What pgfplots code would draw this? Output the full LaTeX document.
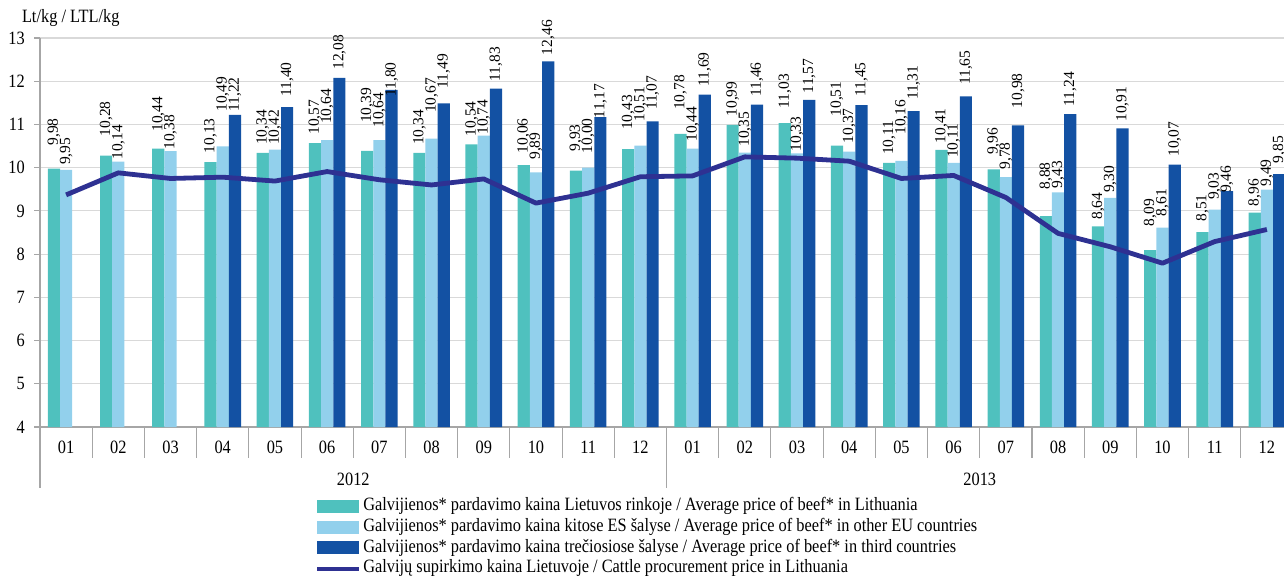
\documentclass[border=0pt]{standalone}
\usepackage{pgfplots}
\pgfplotsset{compat=1.18}
\usepackage{pgfplotstable}
\usepackage{fontspec}
\setmainfont{Liberation Serif}[FakeStretch=0.87]
\newfontfamily\lblfam{Liberation Serif}
\definecolor{cteal}{HTML}{4FC1BE}
\definecolor{clight}{HTML}{92D0EC}
\definecolor{cdark}{HTML}{1351A3}
\definecolor{cline}{HTML}{2E3192}
\definecolor{gridgray}{HTML}{D9D9D9}
\definecolor{axisgray}{HTML}{A6A6A6}
\newcommand{\lblfont}{\lblfam\fontsize{11.6pt}{13pt}\selectfont}
\newcommand{\txtfont}{\fontsize{14.1pt}{16pt}\selectfont}

% x v ly  (v = value, ly = bottom of its label)
\pgfplotstableread{
x v ly
0 9.98 10.51
1 10.28 10.72
2 10.44 10.83
3 10.13 10.33
4 10.34 10.52
5 10.57 10.76
6 10.39 11.03
7 10.34 10.52
8 10.54 10.72
9 10.06 10.33
10 9.93 10.37
11 10.43 10.87
12 10.78 11.33
13 10.99 11.18
14 11.03 11.37
15 10.51 11.18
16 10.11 10.29
17 10.41 10.56
18 9.96 10.29
19 8.88 9.49
20 8.64 8.79
21 8.09 8.64
22 8.51 8.75
23 8.96 9.10
}\tealdata
\pgfplotstableread{
x v ly
0 9.95 10.06
1 10.14 10.18
2 10.38 10.41
3 10.49 11.29
4 10.42 10.52
5 10.64 11.01
6 10.64 10.92
7 10.67 11.26
8 10.74 10.76
9 9.89 10.18
10 10.00 10.33
11 10.51 11.06
12 10.44 10.60
13 10.35 10.48
14 10.33 10.37
15 10.37 10.56
16 10.16 10.76
17 10.11 10.22
18 9.78 9.95
19 9.43 9.52
20 9.30 9.41
21 8.61 8.87
22 9.03 9.25
23 9.49 9.56
}\lightdata
\pgfplotstableread{
x v ly
3 11.22 11.29
4 11.40 11.64
5 12.08 12.26
6 11.80 11.64
7 11.49 11.83
8 11.83 11.99
9 12.46 12.60
10 11.17 11.14
11 11.07 11.33
12 11.69 11.87
13 11.46 11.64
14 11.57 11.72
15 11.45 11.64
16 11.31 11.56
17 11.65 11.91
18 10.98 11.37
19 11.24 11.41
20 10.91 11.06
21 10.07 10.25
22 9.46 9.41
23 9.85 10.10
}\darkdata
\pgfplotstableread{
x p
0 9.37
1 9.88
2 9.75
3 9.78
4 9.69
5 9.91
6 9.72
7 9.60
8 9.74
9 9.18
10 9.41
11 9.79
12 9.81
13 10.25
14 10.22
15 10.15
16 9.75
17 9.82
18 9.31
19 8.48
20 8.17
21 7.79
22 8.29
23 8.57
}\linedata

\pgfplotsset{
  lbl/.style={draw=none, mark=none, forget plot,
    point meta=\thisrow{v},
    nodes near coords={\pgfmathprintnumber[fixed, fixed zerofill, precision=2, use comma, assume math mode=true]{\pgfplotspointmeta}},
    every node near coord/.append style={rotate=90, anchor=west, inner sep=0pt, font=\lblfont, text=black}},
  barleg/.style={legend image code/.code={\fill[##1] (0pt,-4.9pt) rectangle (31.5pt,4.9pt);}},
  lineleg/.style={legend image code/.code={\draw[##1, line width=3pt] (0pt,0pt) -- (31.5pt,0pt);}},
}

\begin{document}
\begin{tikzpicture}
\useasboundingbox (0,0) rectangle (963pt,431.25pt);
\begin{axis}[
  at={(30pt,111pt)}, anchor=south west,
  scale only axis, width=939.75pt, height=291.75pt,
  xmin=-0.5, xmax=23.5, ymin=0, ymax=9,
  clip=false,
  ytick={0,...,9}, yticklabels={4,5,6,7,8,9,10,11,12,13},
  xtick={0,...,23},
  xticklabels={01,02,03,04,05,06,07,08,09,10,11,12,01,02,03,04,05,06,07,08,09,10,11,12},
  ymajorgrids, grid style={draw=gridgray, line width=0.9pt},
  axis x line=bottom, axis y line=left,
  axis line style={-, draw=axisgray, line width=0.8pt},
  tick align=outside, major tick length=4.5pt,
  xtick style={draw=none}, ytick style={draw=axisgray, line width=0.8pt},
  tick label style={font=\txtfont},
  yticklabel style={anchor=east, inner sep=0pt, xshift=-6.75pt},
  xticklabel style={anchor=center, inner sep=0pt, yshift=-11pt},
  /pgf/number format/assume math mode=true,
  legend style={at={(axis description cs:0.2195,-0.1806)}, anchor=north west,
    draw=none, fill=none, inner sep=0pt, font=\txtfont, row sep=2pt,
    nodes={inner xsep=0pt, inner ysep=0pt, text height=10pt, text depth=3.5pt},
    /tikz/every odd column/.append style={column sep=1.5pt}},
  legend cell align=left,
]
\addplot[ybar, bar width=9.15pt, bar shift=-9.15pt, fill=cteal, draw=none, barleg] table[x=x, y expr=\thisrow{v}-4] \tealdata;
\addlegendentry{Galvijienos* pardavimo kaina Lietuvos rinkoje / Average price of beef* in Lithuania}
\addplot[ybar, bar width=9.15pt, bar shift=0pt, fill=clight, draw=none, barleg] table[x=x, y expr=\thisrow{v}-4] \lightdata;
\addlegendentry{Galvijienos* pardavimo kaina kitose ES šalyse / Average price of beef* in other EU countries}
\addplot[ybar, bar width=9.15pt, bar shift=9.15pt, fill=cdark, draw=none, barleg] table[x=x, y expr=\thisrow{v}-4] \darkdata;
\addlegendentry{Galvijienos* pardavimo kaina trečiosiose šalyse / Average price of beef* in third countries}
\addplot[cline, line width=3.6pt, line join=round, mark=none, lineleg] table[x=x, y expr=\thisrow{p}-4] \linedata;
\addlegendentry{Galvijų supirkimo kaina Lietuvoje / Cattle procurement price in Lithuania}

\addplot[lbl] table[x expr=\thisrow{x}-0.2337, y expr=\thisrow{ly}-4] \tealdata;
\addplot[lbl] table[x=x, y expr=\thisrow{ly}-4] \lightdata;
\addplot[lbl] table[x expr=\thisrow{x}+0.2337, y expr=\thisrow{ly}-4] \darkdata;

\pgfplotsinvokeforeach{0.5,1.5,2.5,3.5,4.5,5.5,6.5,7.5,8.5,9.5,10.5,12.5,13.5,14.5,15.5,16.5,17.5,18.5,19.5,20.5,21.5,22.5}{
  \draw[axisgray, line width=0.8pt] (axis cs:#1,0) -- ([yshift=-23.25pt]axis cs:#1,0);
}
\draw[axisgray, line width=0.8pt] (axis cs:-0.5,0) -- ([yshift=-45.75pt]axis cs:-0.5,0);
\draw[axisgray, line width=0.8pt] (axis cs:11.5,0) -- ([yshift=-45.75pt]axis cs:11.5,0);
\node[font=\txtfont] at ([yshift=-39pt]axis cs:5.5,0) {2012};
\node[font=\txtfont] at ([yshift=-39pt]axis cs:17.5,0) {2013};
\end{axis}
\node[anchor=west, inner sep=0pt, font=\txtfont] at (16.3pt,417.5pt) {Lt/kg / LTL/kg};
\end{tikzpicture}
\end{document}
